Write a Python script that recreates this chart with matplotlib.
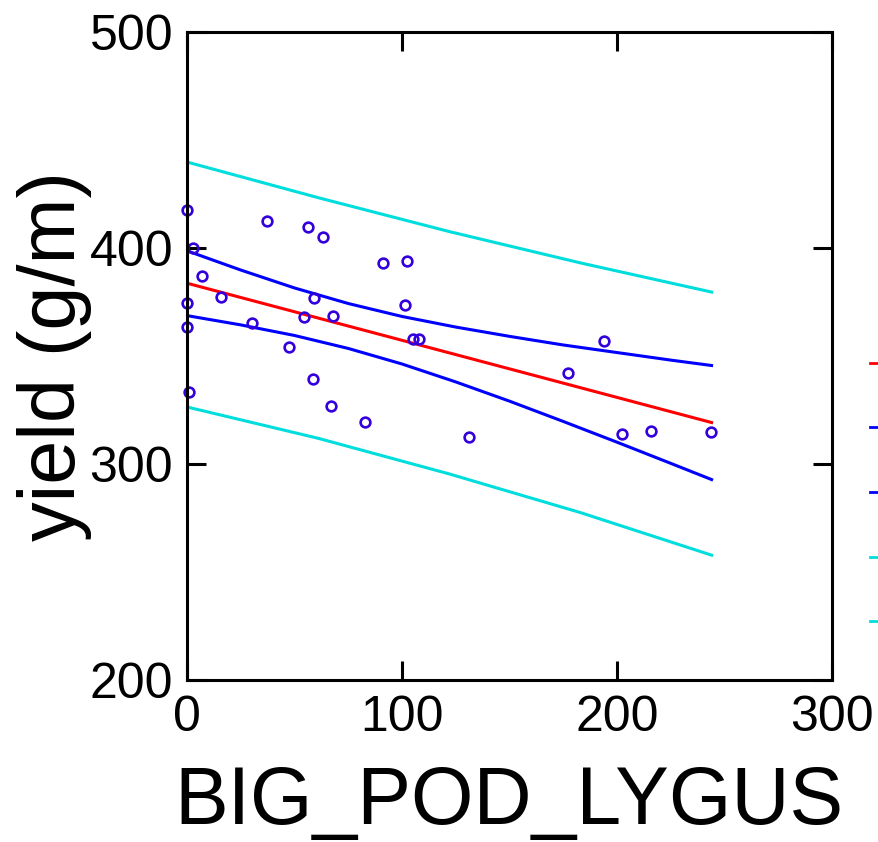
import matplotlib
matplotlib.use('Agg')
from matplotlib import pyplot as plt
from matplotlib.lines import Line2D

plt.rcParams['font.family'] = ['Liberation Sans', 'DejaVu Sans']

# observed points
lygus = [0, 37.1, 56.3, 63.1, 2.9, 91.0, 102.5, 7.1, 15.7, 0, 59.1, 101.5,
         54.6, 67.8, 0, 30.1, 105.0, 108.0, 47.6, 58.5, 1.1, 66.8, 82.8,
         194.1, 177.1, 131.2, 202.2, 215.7, 243.6]
yld = [417.6, 412.6, 409.9, 405.0, 399.9, 392.9, 394.0, 387.0, 377.5, 374.7,
       376.7, 373.6, 368.2, 368.5, 363.6, 365.4, 357.7, 357.7, 354.3, 339.2,
       333.5, 326.9, 319.6, 356.9, 342.0, 312.4, 313.9, 315.4, 315.0]

# fitted line and bands
fit_x = [0, 244]
fit_y = [383.7, 319.2]
ci_x = [0, 25, 50, 75, 100, 125, 150, 175, 200, 225, 244]
ci_hi = [398.7, 389.8, 381.5, 374.3, 368.3, 363.4, 359.1, 355.1, 351.6, 348.1, 345.6]
ci_lo = [368.7, 364.4, 359.5, 353.5, 346.3, 338.0, 329.1, 319.7, 310.1, 300.3, 292.8]
pi_x = [0, 61, 122, 183, 244]
pi_hi = [439.8, 423.3, 407.6, 393.1, 379.6]
pi_lo = [326.4, 311.9, 295.4, 277.5, 257.8]

xticks = [0, 100, 200, 300]
yticks = [200, 300, 400, 500]

W, H = 879, 842
fig = plt.figure(figsize=(W / 100, H / 100), dpi=100)
ax = fig.add_axes([187 / W, 1 - 680 / H, 645 / W, 648 / H])

ax.plot(pi_x, pi_hi, color='#00dddd', lw=2.2)
ax.plot(pi_x, pi_lo, color='#00dddd', lw=2.2)
ax.plot(ci_x, ci_hi, color='#0000ff', lw=2.2)
ax.plot(ci_x, ci_lo, color='#0000ff', lw=2.2)
ax.plot(fit_x, fit_y, color='#ff0000', lw=2.2)
ax.plot(lygus, yld, 'o', mfc='none', mec='#3300dd', ms=7, mew=1.9, clip_on=False)

ax.set_xlim(0, 300)
ax.set_ylim(200, 500)
ax.set_xticks(xticks)
ax.set_yticks(yticks)
for s in ax.spines.values():
    s.set_linewidth(2.2)
ax.tick_params(direction='in', length=13.5, width=2.2, top=True, right=True,
               labelsize=36)
ax.tick_params(axis='y', pad=10)
ax.tick_params(axis='x', pad=11)

fig.text(55 / W, 1 - 356 / H, 'yield (g/m)', rotation=90, fontsize=57,
         ha='center', va='center')
fig.text(509 / W, 1 - 824 / H, 'BIG_POD_LYGUS', fontsize=58,
         ha='center', va='baseline')

# cut-off legend keys on the right edge
keys = [('#ff0000', 363), ('#0000ff', 427), ('#0000ff', 492),
        ('#00dddd', 557), ('#00dddd', 621)]
for c, py in keys:
    fig.add_artist(Line2D([870 / W, 1.0], [1 - py / H, 1 - py / H],
                          color=c, lw=2, transform=fig.transFigure))

plt.savefig('out.png', dpi=100)
